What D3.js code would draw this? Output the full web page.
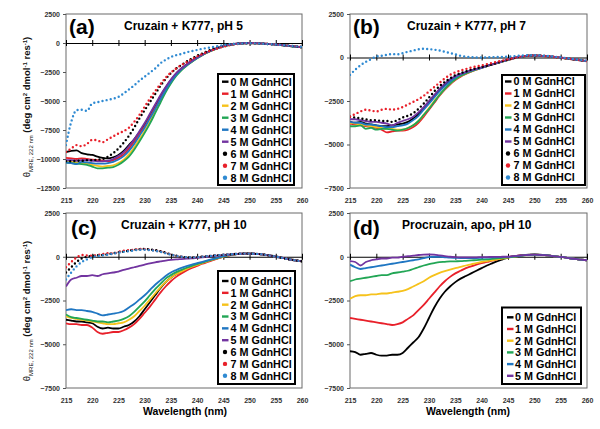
<!DOCTYPE html>
<html><head><meta charset="utf-8">
<script src="https://cdn.jsdelivr.net/npm/d3@7/dist/d3.min.js"></script>
<style>
body{margin:0;background:#fff}
svg{display:block}
text{font-family:Arial,"Liberation Sans",sans-serif}
</style>
</head><body>
<svg id="chart" width="600" height="429"></svg>
<script>
// ---------------- DATA ----------------
const wavelengths = [215,216,217,218,219,220,221,222,223,224,225,
  226,227,228,229,230,231,232,233,234,235,
  236,237,238,239,240,241,242,243,244,245,
  246,247,248,249,250,251,252,253,254,255,
  256,257,258,259,260];
const xTickValues = [215,220,225,230,235,240,245,250,255,260];
const yTicksTall = [2500,0,-2500,-5000,-7500,-10000,-12500];
const yTicksShort = [2500,0,-2500,-5000,-7500];
const seriesNames = ["0 M GdnHCl","1 M GdnHCl","2 M GdnHCl","3 M GdnHCl","4 M GdnHCl","5 M GdnHCl","6 M GdnHCl","7 M GdnHCl","8 M GdnHCl"];
const panelTitles = ["Cruzain + K777, pH 5","Cruzain + K777, pH 7","Cruzain + K777, pH 10","Procruzain, apo, pH 10"];
const panelLetters = ["(a)","(b)","(c)","(d)"];

// (a) Cruzain + K777, pH 5
const a0 = [-9400,-9300,-9250,-9500,-9600,-9650,-9800,-9900,-9950,-9850,-9650,
  -9300,-8800,-8300,-7700,-7000,-6200,-5400,-4600,-3850,-3200,
  -2650,-2200,-1850,-1550,-1250,-1000,-780,-580,-420,-280,
  -170,-90,-40,-10,0,-10,-30,-60,-90,-130,
  -170,-220,-270,-320,-370];
const a1 = [-9900,-9950,-10000,-9950,-10000,-10050,-10100,-10150,-10200,-10100,-9900,
  -9600,-9100,-8500,-7800,-7200,-6400,-5600,-4800,-4000,-3300,
  -2750,-2280,-1900,-1580,-1280,-1020,-800,-600,-430,-290,
  -180,-100,-50,-20,-10,-20,-40,-70,-100,-140,
  -180,-230,-280,-330,-380];
const a2 = [-10200,-10250,-10300,-10350,-10400,-10500,-10600,-10650,-10600,-10550,-10350,
  -10050,-9600,-9000,-8300,-7600,-6800,-5900,-5000,-4150,-3400,
  -2800,-2320,-1940,-1610,-1300,-1040,-810,-610,-440,-300,
  -190,-110,-55,-25,-10,-20,-40,-70,-100,-140,
  -180,-230,-280,-330,-380];
const a3 = [-10300,-10350,-10400,-10450,-10500,-10650,-10800,-10800,-10750,-10700,-10500,
  -10200,-9800,-9200,-8500,-7750,-6950,-6050,-5150,-4250,-3500,
  -2850,-2350,-1960,-1630,-1320,-1050,-820,-620,-450,-300,
  -190,-110,-55,-25,-10,-20,-40,-70,-100,-140,
  -180,-230,-280,-330,-380];
const a4 = [-10300,-10350,-10450,-10250,-10300,-10350,-10400,-10400,-10350,-10250,-10050,
  -9750,-9300,-8700,-8000,-7300,-6500,-5700,-4850,-4050,-3350,
  -2750,-2280,-1920,-1590,-1290,-1030,-800,-600,-430,-290,
  -180,-100,-50,-20,-10,-20,-40,-70,-100,-140,
  -180,-230,-280,-330,-380];
const a5 = [-10100,-10100,-10150,-10100,-10100,-10150,-10200,-10200,-10150,-10000,-9750,
  -9400,-8900,-8300,-7600,-6900,-6100,-5300,-4500,-3800,-3150,
  -2600,-2200,-1850,-1550,-1250,-1000,-780,-580,-420,-280,
  -170,-90,-40,-10,0,-10,-30,-60,-90,-130,
  -170,-220,-270,-320,-370];
const a6 = [-10200,-10200,-10150,-10150,-10100,-10100,-10050,-10000,-9800,-9500,-9100,
  -8600,-8000,-7300,-6500,-5800,-5100,-4400,-3700,-3100,-2600,
  -2200,-1900,-1600,-1350,-1100,-900,-700,-500,-350,-230,
  -150,-90,-50,-30,-20,-30,-50,-70,-100,-130,
  -170,-210,-260,-300,-350];
const a7 = [-9400,-9100,-8800,-8900,-8700,-8350,-8400,-8550,-8300,-8050,-7800,
  -7600,-7300,-6800,-6200,-5500,-4800,-4150,-3550,-3000,-2550,
  -2200,-1900,-1650,-1400,-1150,-950,-750,-600,-450,-320,
  -210,-130,-70,-40,-20,-20,-40,-60,-90,-120,
  -160,-200,-240,-290,-340];
const a8 = [-8800,-6800,-5800,-5750,-5850,-5200,-5100,-5000,-4900,-4800,-4650,
  -4350,-4000,-3650,-3250,-2900,-2550,-2200,-1750,-1450,-1200,
  -1050,-950,-800,-700,-600,-500,-420,-340,-260,-180,
  -120,-80,-50,-30,-20,-30,-50,-70,-100,-130,
  -170,-210,-250,-290,-330];

// (b) Cruzain + K777, pH 7
const b0 = [-3700,-3750,-3700,-3800,-3850,-3900,-3950,-3950,-3900,-3850,-3800,
  -3700,-3500,-3250,-2900,-2550,-2200,-1850,-1550,-1300,-1100,
  -950,-850,-750,-660,-580,-490,-400,-310,-220,-130,
  -50,20,70,100,110,100,80,50,20,-10,
  -50,-90,-130,-170,-210];
const b1 = [-3800,-3850,-3900,-3950,-4000,-4050,-4150,-4300,-4250,-4200,-4200,
  -4150,-4000,-3750,-3400,-3000,-2600,-2200,-1850,-1550,-1300,
  -1100,-950,-820,-700,-600,-500,-410,-320,-230,-140,
  -60,10,60,90,100,90,70,40,10,-20,
  -60,-100,-140,-180,-220];
const b2 = [-3750,-3800,-3850,-3900,-3950,-4000,-4050,-4100,-4100,-4150,-4150,
  -4050,-3900,-3650,-3300,-2900,-2500,-2150,-1800,-1500,-1250,
  -1050,-920,-800,-690,-590,-490,-400,-310,-220,-130,
  -50,20,70,100,110,100,80,50,20,-10,
  -50,-90,-130,-170,-210];
const b3 = [-3950,-3950,-3900,-4100,-4050,-4150,-4100,-4100,-4150,-4200,-4150,
  -4050,-3900,-3650,-3300,-2950,-2550,-2150,-1800,-1500,-1250,
  -1050,-920,-800,-690,-590,-490,-400,-310,-220,-130,
  -50,20,70,100,110,100,80,50,20,-10,
  -50,-90,-130,-170,-210];
const b4 = [-3700,-3750,-3750,-3850,-3850,-3900,-3950,-4000,-4000,-3950,-3900,
  -3800,-3600,-3350,-3000,-2650,-2300,-1950,-1650,-1380,-1150,
  -980,-860,-760,-670,-590,-490,-400,-310,-220,-130,
  -50,20,70,100,110,100,80,50,20,-10,
  -50,-90,-130,-170,-210];
const b5 = [-3550,-3550,-3600,-3650,-3700,-3700,-3750,-3800,-3900,-3750,-3650,
  -3550,-3400,-3150,-2850,-2500,-2150,-1800,-1500,-1250,-1080,
  -940,-840,-740,-650,-570,-480,-390,-300,-210,-120,
  -40,30,80,110,120,110,90,60,30,0,
  -40,-80,-120,-160,-200];
const b6 = [-3400,-3450,-3500,-3550,-3600,-3600,-3650,-3650,-3700,-3600,-3450,
  -3350,-3200,-2950,-2650,-2300,-1950,-1650,-1400,-1200,-1020,
  -900,-800,-700,-620,-550,-470,-390,-300,-210,-120,
  -40,30,80,110,120,110,90,60,30,0,
  -40,-80,-120,-160,-200];
const b7 = [-3400,-3250,-3100,-3000,-3050,-3100,-3000,-2950,-3000,-2950,-2850,
  -2700,-2550,-2400,-2200,-1950,-1700,-1450,-1200,-1000,-850,
  -750,-660,-580,-510,-450,-380,-310,-240,-170,-100,
  -30,30,80,110,120,110,90,60,30,0,
  -40,-80,-120,-160,-200];
const b8 = [-1000,-700,-450,-250,-100,50,100,150,200,180,250,
  330,400,470,500,480,450,400,330,260,180,
  100,50,20,0,0,10,20,30,40,50,
  70,100,120,130,130,120,100,70,40,10,
  -30,-70,-110,-150,-190];

// (c) Cruzain + K777, pH 10
const c0 = [-3600,-3650,-3700,-3700,-3750,-3800,-4000,-4100,-4050,-4100,-4100,
  -4000,-3900,-3700,-3400,-3000,-2600,-2200,-1800,-1450,-1200,
  -1000,-850,-700,-560,-450,-350,-260,-170,-80,10,
  80,130,160,180,180,170,150,110,60,10,
  -50,-110,-170,-220,-260];
const c1 = [-3800,-3850,-3850,-3900,-3900,-4050,-4300,-4400,-4350,-4300,-4300,
  -4200,-4050,-3850,-3550,-3200,-2850,-2450,-2050,-1700,-1400,
  -1150,-950,-780,-640,-520,-400,-300,-200,-100,0,
  70,120,160,180,180,170,150,110,60,10,
  -50,-110,-170,-220,-260];
const c2 = [-3400,-3500,-3550,-3600,-3650,-3700,-3750,-3800,-3850,-3850,-3800,
  -3750,-3600,-3400,-3100,-2800,-2450,-2100,-1750,-1450,-1200,
  -1000,-850,-700,-570,-460,-360,-260,-170,-80,10,
  80,130,160,180,180,170,150,110,60,10,
  -50,-110,-170,-220,-260];
const c3 = [-3300,-3450,-3500,-3550,-3600,-3650,-3700,-3700,-3750,-3700,-3650,
  -3550,-3400,-3150,-2850,-2550,-2200,-1850,-1550,-1250,-1050,
  -880,-750,-630,-520,-420,-330,-240,-150,-60,20,
  90,140,170,180,180,170,150,110,60,10,
  -50,-110,-170,-220,-260];
const c4 = [-3050,-3000,-3050,-3050,-3100,-3150,-3250,-3350,-3300,-3250,-3200,
  -3100,-2900,-2700,-2450,-2200,-1900,-1600,-1350,-1100,-900,
  -760,-640,-540,-450,-370,-290,-210,-130,-50,30,
  100,140,170,180,180,170,150,110,60,10,
  -50,-110,-170,-220,-260];
const c5 = [-1700,-1300,-1200,-1100,-1100,-1050,-1100,-1000,-950,-900,-850,
  -750,-680,-600,-520,-450,-380,-320,-270,-220,-180,
  -150,-130,-110,-90,-60,-30,0,30,60,90,
  120,150,170,180,180,170,150,110,60,10,
  -50,-110,-170,-220,-260];
const c6 = [-900,-600,-300,-100,0,50,80,100,150,200,250,
  300,350,400,430,450,420,380,320,230,130,
  60,0,-30,-40,-20,0,30,60,90,110,
  130,150,170,180,180,170,150,110,60,10,
  -50,-110,-170,-220,-260];
const c7 = [-600,-300,-50,100,80,50,100,150,200,180,280,
  350,380,400,450,430,400,350,300,220,130,
  50,0,-30,-40,-30,0,30,60,90,110,
  130,150,170,180,180,170,150,110,60,10,
  -50,-110,-170,-220,-260];
const c8 = [-1300,-900,-550,-300,-150,-20,50,80,120,180,230,
  280,320,360,400,400,380,340,280,200,120,
  50,0,-30,-40,-30,0,30,60,90,110,
  130,150,170,180,180,170,150,110,60,10,
  -50,-110,-170,-220,-260];

// (d) Procruzain, apo, pH 10
const pro0 = [-5400,-5450,-5600,-5550,-5500,-5600,-5650,-5650,-5600,-5600,-5500,
  -5200,-4900,-4600,-4100,-3500,-2900,-2400,-2000,-1700,-1450,
  -1250,-1100,-950,-800,-650,-500,-380,-250,-150,-50,
  20,60,100,120,130,120,100,60,20,-10,
  -50,-100,-140,-170,-200];
const pro1 = [-3500,-3550,-3600,-3650,-3700,-3750,-3800,-3850,-3900,-3850,-3750,
  -3550,-3350,-3050,-2750,-2400,-2050,-1700,-1400,-1150,-950,
  -800,-650,-550,-450,-370,-300,-220,-150,-80,-20,
  30,60,90,110,120,110,90,60,20,-10,
  -50,-100,-140,-170,-200];
const pro2 = [-2400,-2250,-2200,-2200,-2150,-2150,-2100,-2100,-2050,-2000,-1950,
  -1850,-1700,-1550,-1400,-1200,-1050,-920,-820,-730,-650,
  -580,-500,-430,-370,-300,-250,-200,-150,-100,-50,
  0,40,80,110,120,110,90,60,20,-10,
  -50,-100,-140,-170,-200];
const pro3 = [-1400,-1300,-1250,-1200,-1150,-1100,-1050,-1050,-950,-900,-850,
  -800,-700,-600,-500,-420,-360,-310,-290,-270,-260,
  -250,-230,-210,-190,-170,-150,-120,-90,-60,-30,
  0,40,80,110,120,110,90,60,20,-10,
  -50,-100,-140,-170,-200];
const pro4 = [-450,-600,-700,-650,-600,-550,-500,-450,-400,-350,-300,
  -250,-200,-150,-80,-20,0,-10,-30,-50,-60,
  -70,-70,-70,-70,-60,-50,-40,-30,-20,-10,
  20,50,80,110,120,110,90,60,20,-10,
  -50,-100,-140,-170,-200];
const pro5 = [-250,-300,-500,-300,-200,-150,-100,-100,-50,-50,0,
  30,60,100,120,130,120,80,40,0,-20,
  -30,-30,-30,-30,-20,-20,-10,-10,0,0,
  30,60,90,110,120,110,90,60,20,-10,
  -50,-100,-140,-170,-200];

// ---------------- STYLE / LAYOUT ----------------
const colors = ["#000000","#e8202a","#f6c21c","#22a655","#1f76c2","#7234a0","#000000","#e8202a","#2f8ad2"];
const dotted = [false,false,false,false,false,false,true,true,true];

const panels = [
  {series:[a0,a1,a2,a3,a4,a5,a6,a7,a8], yDomain:[2500,-12500], yTicks:yTicksTall,
   fx0:66, fx1:302, fy0:14, fy1:188,
   letter:{x:69,y:34}, title:{x:124,y:29.5},
   legend:{x:218,y:74,w:76,h:111,row0:81.7,step:12,mx:4,tx:12.5},
   yLabel:{x:30,y:107}, xTitle:null},
  {series:[b0,b1,b2,b3,b4,b5,b6,b7,b8], yDomain:[2500,-7500], yTicks:yTicksShort,
   fx0:350, fx1:587, fy0:14, fy1:188,
   letter:{x:353,y:34}, title:{x:407,y:29.5},
   legend:{x:502,y:75,w:83,h:110,row0:81.5,step:12,mx:3,tx:11.5},
   yLabel:null, xTitle:null},
  {series:[c0,c1,c2,c3,c4,c5,c6,c7,c8], yDomain:[2500,-7500], yTicks:yTicksShort,
   fx0:66, fx1:302, fy0:213, fy1:388,
   letter:{x:71,y:235}, title:{x:121,y:228.5},
   legend:{x:218,y:271,w:77,h:113,row0:281,step:11.84,mx:4,tx:12.5},
   yLabel:{x:30,y:311}, xTitle:{x:185,y:415}},
  {series:[pro0,pro1,pro2,pro3,pro4,pro5], yDomain:[2500,-7500], yTicks:yTicksShort,
   fx0:350, fx1:587, fy0:213, fy1:388,
   letter:{x:353,y:235}, title:{x:402,y:228.5},
   legend:{x:502,y:307.5,w:79,h:76.5,row0:317.3,step:11.7,mx:5,tx:13},
   yLabel:null, xTitle:{x:468,y:415}}
];

const svg = d3.select("#chart");
svg.append("rect").attr("width",600).attr("height",429).attr("fill","#fff");

panels.forEach((p, pi) => {
  const x = d3.scaleLinear().domain([215,260]).range([p.fx0, p.fx1]);
  const y = d3.scaleLinear().domain(p.yDomain).range([p.fy0, p.fy1]);
  const g = svg.append("g");

  const clipId = "clip" + pi;
  g.append("clipPath").attr("id", clipId).append("rect")
    .attr("x", p.fx0).attr("y", p.fy0).attr("width", p.fx1 - p.fx0).attr("height", p.fy1 - p.fy0);

  g.append("rect").attr("x", p.fx0).attr("y", p.fy0)
    .attr("width", p.fx1 - p.fx0).attr("height", p.fy1 - p.fy0)
    .attr("fill", "none").attr("stroke", "#6a6a6a").attr("stroke-width", 1);

  const yAxis = d3.axisLeft(y).tickValues(p.yTicks).tickSize(3).tickPadding(3).tickFormat(d3.format("d"));
  const ya = g.append("g").attr("transform", `translate(${p.fx0},0)`).call(yAxis);
  ya.select(".domain").remove();
  ya.selectAll(".tick line").attr("stroke", "#555");
  ya.selectAll(".tick text").attr("font-size", 7).attr("font-weight", "bold").attr("fill", "#333")
    .attr("font-family", "Arial, 'Liberation Sans', sans-serif");

  const zeroY = y(0);
  const xAxis = d3.axisBottom(x).tickValues(xTickValues).tickSize(0).tickFormat("");
  const xa = g.append("g").attr("transform", `translate(0,${zeroY})`).call(xAxis);
  xa.select(".domain").attr("stroke", "#000").attr("stroke-width", 1.2);
  xa.selectAll(".tick").append("line").attr("y1", -3).attr("y2", 3).attr("stroke", "#000").attr("stroke-width", 1);

  const xb = g.append("g").attr("transform", `translate(0,${p.fy1})`)
    .call(d3.axisBottom(x).tickValues(xTickValues).tickSize(0).tickPadding(10).tickFormat(d3.format("d")));
  xb.select(".domain").remove();
  xb.selectAll(".tick text").attr("font-size", 7).attr("font-weight", "bold").attr("fill", "#333")
    .attr("font-family", "Arial, 'Liberation Sans', sans-serif");

  const line = d3.line().x((d, i) => x(wavelengths[i])).y(d => y(d)).curve(d3.curveMonotoneX);
  const cg = g.append("g").attr("clip-path", `url(#${clipId})`);
  p.series.forEach((s, si) => {
    const n = Math.min(s.length, wavelengths.length);
    const path = cg.append("path").datum(s.slice(0, n)).attr("d", line)
      .attr("fill", "none").attr("stroke", colors[si]);
    if (dotted[si]) {
      path.attr("stroke-width", 2.4).attr("stroke-dasharray", "0,4.2").attr("stroke-linecap", "round");
    } else {
      path.attr("stroke-width", 1.8).attr("stroke-linejoin", "round");
    }
  });

  g.append("text").attr("x", p.letter.x).attr("y", p.letter.y).text(panelLetters[pi])
    .attr("font-size", 21).attr("font-weight", "bold").attr("fill", "#000");
  g.append("text").attr("x", p.title.x).attr("y", p.title.y).text(panelTitles[pi])
    .attr("font-size", 12).attr("font-weight", "bold").attr("fill", "#000");

  const L = p.legend;
  const lg = g.append("g");
  lg.append("rect").attr("x", L.x).attr("y", L.y).attr("width", L.w).attr("height", L.h)
    .attr("fill", "#fff").attr("stroke", "#000").attr("stroke-width", 2);
  p.series.forEach((s, si) => {
    const cy = L.row0 + si * L.step;
    if (dotted[si]) {
      lg.append("circle").attr("cx", L.x + L.mx + 3).attr("cy", cy).attr("r", 2.2).attr("fill", colors[si]);
    } else {
      lg.append("line").attr("x1", L.x + L.mx).attr("x2", L.x + L.mx + 6.5)
        .attr("y1", cy).attr("y2", cy).attr("stroke", colors[si]).attr("stroke-width", 2.4);
    }
    lg.append("text").attr("x", L.x + L.tx).attr("y", cy).attr("dy", "0.36em")
      .text(seriesNames[si]).attr("font-size", 10.8).attr("font-weight", "bold").attr("fill", "#000");
  });

  if (p.yLabel) {
    const t = g.append("text")
      .attr("transform", `translate(${p.yLabel.x},${p.yLabel.y}) rotate(-90)`)
      .attr("text-anchor", "middle").attr("fill", "#111");
    t.append("tspan").text("θ").attr("font-size", 9.5);
    t.append("tspan").text("MRE, 222 nm").attr("font-size", 6).attr("dy", 2.5);
    t.append("tspan").text(" (deg cm").attr("font-size", 9.5).attr("font-weight", "bold").attr("dy", -2.5);
    t.append("tspan").text("2").attr("font-size", 6).attr("font-weight", "bold").attr("dy", -3.5);
    t.append("tspan").text(" dmol").attr("font-size", 9.5).attr("font-weight", "bold").attr("dy", 3.5);
    t.append("tspan").text("-1").attr("font-size", 6).attr("font-weight", "bold").attr("dy", -3.5);
    t.append("tspan").text(" res").attr("font-size", 9.5).attr("font-weight", "bold").attr("dy", 3.5);
    t.append("tspan").text("-1").attr("font-size", 6).attr("font-weight", "bold").attr("dy", -3.5);
    t.append("tspan").text(")").attr("font-size", 9.5).attr("font-weight", "bold").attr("dy", 3.5);
  }

  if (p.xTitle) {
    g.append("text").attr("x", p.xTitle.x).attr("y", p.xTitle.y).attr("text-anchor", "middle")
      .text("Wavelength (nm)").attr("font-size", 10.5).attr("font-weight", "bold").attr("fill", "#000");
  }
});
</script>
</body></html>
